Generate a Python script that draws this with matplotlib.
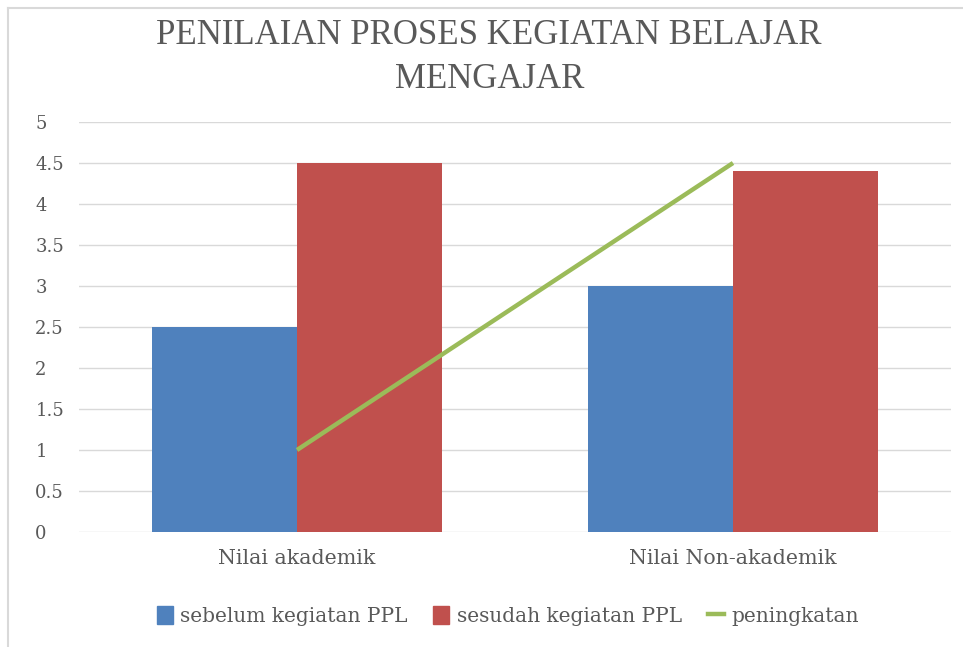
import matplotlib
matplotlib.use('Agg')
import matplotlib.pyplot as plt
from matplotlib.lines import Line2D
from matplotlib.patches import Patch

categories = ['Nilai akademik', 'Nilai Non-akademik']
sebelum = [2.5, 3.0]
sesudah = [4.5, 4.4]
peningkatan = [1.0, 4.5]
yticks = [0, 0.5, 1, 1.5, 2, 2.5, 3, 3.5, 4, 4.5, 5]
ytick_labels = ['0', '0.5', '1', '1.5', '2', '2.5', '3', '3.5', '4', '4.5', '5']

plt.rcParams['font.family'] = ['DejaVu Serif']

blue, red, green = '#4F81BD', '#C0504D', '#9BBB59'
txt = '#595959'

fig = plt.figure(figsize=(9.63, 6.47), dpi=100)
ax = fig.add_axes([79 / 963, 115 / 647, 872 / 963, 410 / 647])

x = range(len(categories))
w = 0.333
ax.bar([i - w / 2 for i in x], sebelum, width=w, color=blue, zorder=2)
ax.bar([i + w / 2 for i in x], sesudah, width=w, color=red, zorder=2)
ax.plot(list(x), peningkatan, color=green, lw=3.2, solid_capstyle='butt', zorder=3)

ax.set_xlim(-0.5, 1.5)
ax.set_ylim(0, 5)
ax.set_yticks(yticks)
ax.set_yticklabels(ytick_labels)
ax.set_xticks(list(x))
ax.set_xticklabels(categories, fontsize=14.8)
ax.grid(axis='y', color='#D9D9D9', lw=1, zorder=0)
for s in ['top', 'right', 'left', 'bottom']:
    ax.spines[s].set_visible(False)
ax.tick_params(axis='both', length=0, colors=txt)
ax.tick_params(axis='y', pad=31.5, labelsize=13)
for t in ax.get_yticklabels():
    t.set_horizontalalignment('left')
ax.tick_params(axis='x', pad=12.5)

fig.text(0.508, 0.97, 'PENILAIAN PROSES KEGIATAN BELAJAR\nMENGAJAR', ha='center', va='top',
         fontsize=25, color=txt, linespacing=1.42, family=['Liberation Serif'])

handles = [Patch(color=blue, label='sebelum kegiatan PPL'),
           Patch(color=red, label='sesudah kegiatan PPL'),
           Line2D([0], [0], color=green, lw=3.2, label='peningkatan')]
fig.legend(handles=handles, loc='center', bbox_to_anchor=(0.527, 0.048), ncol=3, frameon=False,
           fontsize=14.5, labelcolor=txt, handlelength=0.8, handleheight=1.0, handletextpad=0.35,
           columnspacing=1.3)

# chart frame (only top and left edges visible in crop)
fig.add_artist(Line2D([8 / 963, 8 / 963], [0, 639 / 647], color='#D9D9D9', lw=1.5))
fig.add_artist(Line2D([8 / 963, 1], [639 / 647, 639 / 647], color='#D9D9D9', lw=1.5))

fig.savefig('out.png', dpi=100)
